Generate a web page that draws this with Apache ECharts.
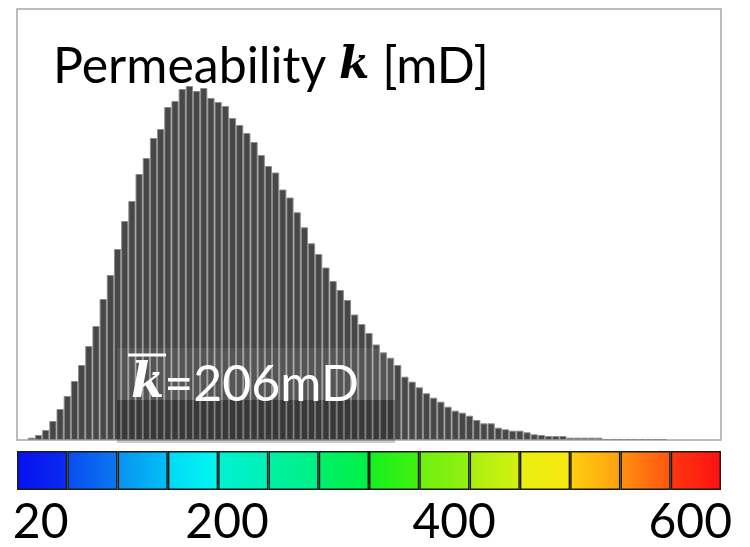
<!DOCTYPE html>
<html>
<head>
<meta charset="utf-8">
<script src="https://cdn.jsdelivr.net/npm/echarts@6/dist/echarts.min.js"></script>
<style>
html,body{margin:0;padding:0;background:#fff;}
#chart{width:750px;height:547px;}
</style>
</head>
<body>
<div id="chart"></div>
<script>
// Histogram bar heights (frequency, relative units), left to right
var counts = [2.3,5,10,19,31,44,59,75,94,114,
  141,165,191,219,239,266,282,302,311,333,
  339,351,354,349,352,342,338,334,322,315,
  307,298,285,274,267.5,250.5,242.5,227.7,212.7,196.7,
  186,172.5,159,150,140,125.5,116,107,95.5,87.7,
  82.3,75,63.3,58.3,52.7,46.7,42.3,38.3,33.3,29.3,
  27.3,24.3,20,16.7,16.7,12.3,10.7,9.3,9.3,7.7,
  5.7,5,4,4,4,2.3,2.3,2.3,2.3,2.3,
  1,1,1,1,1,1,1,1,1];
var emptyBefore = 2;   // empty bins left of the first bar
var emptyAfter = 8;    // empty bins right of the last bar
var freqMax = 431;

// Colour bar: 14 segments, each a small gradient (start, end)
var segStart = ['#0610f0','#0a4cf0','#0a92f2','#00d8f5','#00f2d2','#00f0a4','#00f06c','#14f020','#6cf010','#a8f010','#e8f010','#ffd010','#ff9010','#ff3810'];
var segEnd   = ['#0a2cf0','#0a78f0','#00c0f5','#00f8f0','#00f0b4','#00f084','#00f044','#44f010','#94f010','#d4f010','#f8e810','#ffa010','#ff5410','#ff1010'];
var tickValues = [20, 200, 400, 600];
var axisMin = 15, axisMax = 635;

var binData = [];
var binCats = [];
var i;
for (i = 0; i < emptyBefore; i++) binData.push(null);
for (i = 0; i < counts.length; i++) binData.push(counts[i]);
for (i = 0; i < emptyAfter; i++) binData.push(null);
for (i = 0; i < binData.length; i++) binCats.push(String(i));

var segCats = [], segData = [];
for (i = 0; i < segStart.length; i++) {
  segCats.push(String(i));
  segData.push({
    value: 1,
    itemStyle: {
      color: new echarts.graphic.LinearGradient(0, 0, 1, 0, [
        {offset: 0, color: segStart[i]}, {offset: 1, color: segEnd[i]}
      ])
    }
  });
}

var SANS = 'Lato';
var chart = echarts.init(document.getElementById('chart'), null, {renderer: 'canvas'});
chart.setOption({
  animation: false,
  backgroundColor: '#fff',
  title: {
    text: '{a|Permeability }{k|k}{a| [mD]}',
    left: 48, top: 37,
    textStyle: {
      fontWeight: 'normal',
      rich: {
        a: {fontFamily: SANS, fontSize: 50, fontWeight: 'normal', color: '#000'},
        k: {fontFamily: 'DejaVu Serif', fontStyle: 'italic', fontWeight: 'bold', fontSize: 44, color: '#000'}
      }
    }
  },
  grid: [
    {left: 17, top: 9, width: 704, height: 431, show: true, borderColor: '#a6a6a6', borderWidth: 1.5, backgroundColor: 'transparent'},
    {left: 17, top: 451, width: 704, height: 45}
  ],
  xAxis: [
    {gridIndex: 0, type: 'category', data: binCats, boundaryGap: false, show: false},
    {gridIndex: 1, type: 'category', data: segCats, boundaryGap: true, show: false},
    {gridIndex: 1, type: 'value', min: axisMin, max: axisMax, position: 'bottom',
      axisLine: {show: false}, axisTick: {show: false}, splitLine: {show: false},
      axisLabel: {
        show: true, customValues: tickValues, margin: 9,
        fontFamily: SANS, fontSize: 48, color: '#000',
        formatter: function (v) {
          if (v === 20) return '{l|' + v + '}';
          if (v === 600) return '{r|' + v + '}';
          return '{c|' + v + '}';
        },
        rich: {
          l: {fontFamily: SANS, fontSize: 48, color: '#000', padding: [0, 0, 0, 36]},
          r: {fontFamily: SANS, fontSize: 48, color: '#000', padding: [0, 0, 0, 18]},
          c: {fontFamily: SANS, fontSize: 48, color: '#000'}
        }
      }
    }
  ],
  yAxis: [
    {gridIndex: 0, type: 'value', min: 0, max: freqMax, show: false},
    {gridIndex: 1, type: 'value', min: 0, max: 1, show: false}
  ],
  series: [
    {
      type: 'bar', xAxisIndex: 0, yAxisIndex: 0, data: binData,
      barWidth: '100%', barGap: '0%',
      itemStyle: {color: '#474747', borderColor: '#8c8c8c', borderWidth: 1}
    },
    {
      type: 'bar', xAxisIndex: 1, yAxisIndex: 1, data: segData,
      barWidth: '100%', barGap: '0%',
      itemStyle: {borderColor: '#1a1a1a', borderWidth: 1.5}
    }
  ],
  graphic: [
    {type: 'rect', shape: {x: 117, y: 348, width: 278, height: 52}, style: {fill: 'rgba(255,255,255,0.08)'}, z: 100},
    {type: 'rect', shape: {x: 117, y: 400, width: 278, height: 43}, style: {fill: 'rgba(0,0,0,0.2)'}, z: 100},
    {type: 'line', shape: {x1: 128, y1: 355, x2: 166, y2: 355}, style: {stroke: '#fff', lineWidth: 3}, z: 101},
    {type: 'text', x: 131, y: 360, z: 101,
      style: {
        text: '{k|k}{r|=206mD}',
        rich: {
          k: {fontFamily: 'DejaVu Serif', fontStyle: 'italic', fontWeight: 'bold', fontSize: 48, fill: '#fff'},
          r: {fontFamily: SANS, fontSize: 50, fill: '#fff'}
        }
      }
    }
  ]
});
</script>
</body>
</html>
